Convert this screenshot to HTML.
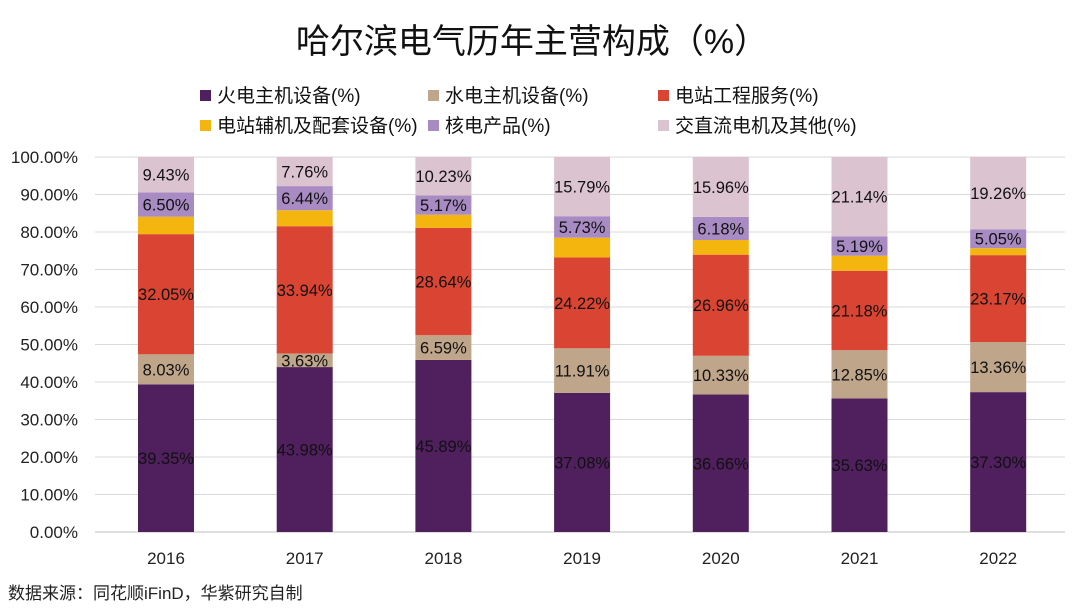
<!DOCTYPE html>
<html><head><meta charset="utf-8">
<style>
body{margin:0;background:#fff;width:1080px;height:608px;overflow:hidden;font-family:"Liberation Sans","Noto Sans CJK SC",sans-serif;}
</style></head>
<body>
<svg id="chart" width="1080" height="608" xmlns="http://www.w3.org/2000/svg">
<text x="532" y="53" text-anchor="middle" font-size="34" fill="#111" font-family="Liberation Sans, Noto Sans CJK SC, sans-serif">哈尔滨电气历年主营构成（%）</text>
<g id="legend"></g>
<g id="grid"></g>
<g id="yaxis"></g>
<g id="bars"></g>
<g id="xaxis"></g>
<text x="8" y="599" font-size="17" fill="#222" font-family="Liberation Sans, Noto Sans CJK SC, sans-serif">数据来源：同花顺iFinD，华紫研究自制</text>
</svg>
<script>
const years=["2016","2017","2018","2019","2020","2021","2022"];
const seriesNames=["火电主机设备(%)","水电主机设备(%)","电站工程服务(%)","电站辅机及配套设备(%)","核电产品(%)","交直流电机及其他(%)"];
const thermal=[39.35,43.98,45.89,37.08,36.66,35.63,37.30];
const hydro=[8.03,3.63,6.59,11.91,10.33,12.85,13.36];
const engineering=[32.05,33.94,28.64,24.22,26.96,21.18,23.17];
const auxiliary=[4.64,4.25,3.48,5.27,3.91,4.01,1.86];
const nuclear=[6.50,6.44,5.17,5.73,6.18,5.19,5.05];
const other=[9.43,7.76,10.23,15.79,15.96,21.14,19.26];
const yTicks=[0,10,20,30,40,50,60,70,80,90,100];
const series=[thermal,hydro,engineering,auxiliary,nuclear,other];
const colors=["#4f1f5e","#bfa58a","#d94532","#f5b50f","#a98bc4","#dcc3d0"];
const showLabel=[true,true,true,false,true,true];
const NS="http://www.w3.org/2000/svg";
const y0=532,y1=157,xL=95,xR=1065;
const yS=v=>y0-(y0-y1)*v/100;
const xC=i=>166+i*138.7;
const bw=56;
function mk(t,a,p){const e=document.createElementNS(NS,t);for(const k in a)e.setAttribute(k,a[k]);p.appendChild(e);return e;}
const grid=document.getElementById('grid'),ya=document.getElementById('yaxis'),bars=document.getElementById('bars'),xa=document.getElementById('xaxis'),lg=document.getElementById('legend');
yTicks.forEach(t=>{
 const l=mk('line',{x1:xL,x2:xR,y1:yS(t),y2:yS(t),stroke:t==0?'#bfbfbf':'#d9d9d9','stroke-width':1},grid);
 
 
 const tx=mk('text',{x:78,y:yS(t)+6,'text-anchor':'end','font-size':17,fill:'#222'},ya);
 tx.textContent=t.toFixed(2)+'%';
 
 
});
years.forEach((yr,i)=>{
 let acc=0;
 series.forEach((s,k)=>{
  const v=s[i];
  const r=mk('rect',{x:xC(i)-bw/2,y:yS(acc+v),width:bw,height:yS(acc)-yS(acc+v),fill:colors[k]},bars);
  
  
  if(showLabel[k]){
   const t=mk('text',{x:xC(i),y:yS(acc+v/2)+6,'text-anchor':'middle','font-size':16.5,fill:'#111'},bars);
   t.textContent=v.toFixed(2)+'%';
   
   
  }
  acc+=v;
 });
 const t=mk('text',{x:xC(i),y:564,'text-anchor':'middle','font-size':17,fill:'#222'},xa);
 t.textContent=yr;
 
 
});
const lx=[200,428,658];
seriesNames.forEach((n,k)=>{
 const x=lx[k%3],y=k<3?96:126;
 const r=mk('rect',{x:x,y:y-6,width:11,height:11,fill:colors[k]},lg);
 
 
 const t=mk('text',{x:x+17,y:y+6,'font-size':19,fill:'#111'},lg);
 t.textContent=n;
 
 
});
</script>
</body></html>
